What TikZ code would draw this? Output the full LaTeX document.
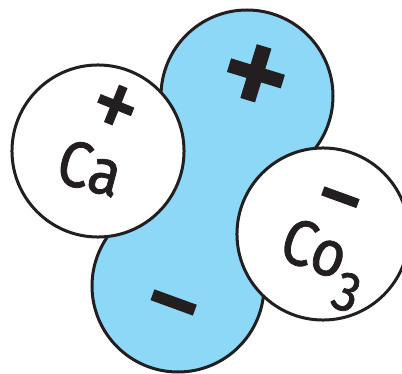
\documentclass[tikz,border=0pt]{standalone}
\usepackage{fontspec}
\setmainfont{Fira Sans}[FakeStretch=0.9,FakeBold=1.2]
\newfontfamily\signfont{Fira Sans}[FakeBold=2.5]
\definecolor{ionblue}{RGB}{141,216,246}
\definecolor{inkblack}{RGB}{35,31,32}
\begin{document}
\begin{tikzpicture}[x=0.025cm,y=-0.025cm,
    every node/.style={text=inkblack,inner sep=0pt,outer sep=0pt},
    ion/.style={circle,draw=inkblack,line width=0.075cm,fill=white,
        minimum size=4.3cm},
    symbol/.style={font=\fontsize{46}{46}\selectfont},
    charge/.style={font=\fontsize{#1}{#1}\selectfont},
    bigcharge/.style={font=\signfont\fontsize{#1}{#1}\selectfont}]
    \useasboundingbox (0,0) rectangle (402,374);
    % water molecule
    \coordinate (hplus) at (247,96);
    \coordinate (hminus) at (178,286);
    \fill[ionblue,draw=inkblack,line width=0.075cm]
        (hplus) circle (86) (hminus) circle (86);
    \draw[ionblue,line width=3cm] (hplus) -- (hminus);
    \node[bigcharge=100,rotate=-17] (plus) at (253,83) {+};
    \node[bigcharge=80,rotate=-20] (minus) at (168,318) {−};
    % ions
    \node[ion] (ca) at (98,151) {};
    \node[ion] (co) at (323,234) {};
    \node[symbol,rotate=-15] (calabel) at (90,168) {Ca};
    \node[charge=74,rotate=-22] (caplus) at (113,112) {+};
    \node[symbol,rotate=-20] (colabel) at (322,265)
        {Co\raisebox{-0.42em}{\fontsize{40}{40}\selectfont 3}};
    \node[charge=76,rotate=-20] (cominus) at (335,212) {−};
\end{tikzpicture}
\end{document}
